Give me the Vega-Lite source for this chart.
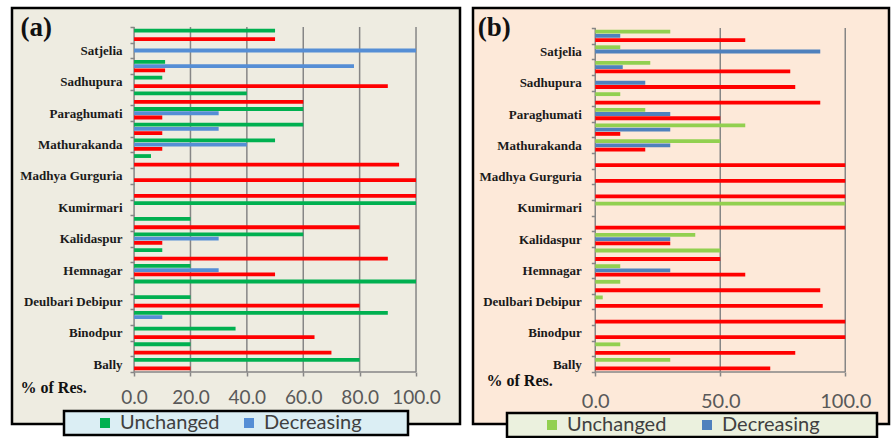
{
  "$schema": "https://vega.github.io/schema/vega-lite/v6.json",
  "description": "Perception of change, % of respondents, by village - panels (a) and (b)",
  "background": "white",
  "padding": {"left": 10, "top": 0, "right": 0, "bottom": 0},
  "spacing": 9,
  "datasets": {
    "bars": [
      {"p": "a", "cat": "Satjelia ii", "s": "Unchanged", "v": 50},
      {"p": "a", "cat": "Satjelia ii", "s": "Increasing", "v": 50},
      {"p": "a", "cat": "Satjelia", "s": "Decreasing", "v": 100},
      {"p": "a", "cat": "Sadhupura ii", "s": "Unchanged", "v": 11},
      {"p": "a", "cat": "Sadhupura ii", "s": "Decreasing", "v": 78},
      {"p": "a", "cat": "Sadhupura ii", "s": "Increasing", "v": 11},
      {"p": "a", "cat": "Sadhupura", "s": "Unchanged", "v": 10},
      {"p": "a", "cat": "Sadhupura", "s": "Increasing", "v": 90},
      {"p": "a", "cat": "Paraghumati ii", "s": "Unchanged", "v": 40},
      {"p": "a", "cat": "Paraghumati ii", "s": "Increasing", "v": 60},
      {"p": "a", "cat": "Paraghumati", "s": "Unchanged", "v": 60},
      {"p": "a", "cat": "Paraghumati", "s": "Decreasing", "v": 30},
      {"p": "a", "cat": "Paraghumati", "s": "Increasing", "v": 10},
      {"p": "a", "cat": "Mathurakanda ii", "s": "Unchanged", "v": 60},
      {"p": "a", "cat": "Mathurakanda ii", "s": "Decreasing", "v": 30},
      {"p": "a", "cat": "Mathurakanda ii", "s": "Increasing", "v": 10},
      {"p": "a", "cat": "Mathurakanda", "s": "Unchanged", "v": 50},
      {"p": "a", "cat": "Mathurakanda", "s": "Decreasing", "v": 40},
      {"p": "a", "cat": "Mathurakanda", "s": "Increasing", "v": 10},
      {"p": "a", "cat": "Madhya Gurguria ii", "s": "Unchanged", "v": 6},
      {"p": "a", "cat": "Madhya Gurguria ii", "s": "Increasing", "v": 94},
      {"p": "a", "cat": "Madhya Gurguria", "s": "Increasing", "v": 100},
      {"p": "a", "cat": "Kumirmari ii", "s": "Increasing", "v": 100},
      {"p": "a", "cat": "Kumirmari", "s": "Unchanged", "v": 100},
      {"p": "a", "cat": "Kalidaspur ii", "s": "Unchanged", "v": 20},
      {"p": "a", "cat": "Kalidaspur ii", "s": "Increasing", "v": 80},
      {"p": "a", "cat": "Kalidaspur", "s": "Unchanged", "v": 60},
      {"p": "a", "cat": "Kalidaspur", "s": "Decreasing", "v": 30},
      {"p": "a", "cat": "Kalidaspur", "s": "Increasing", "v": 10},
      {"p": "a", "cat": "Hemnagar ii", "s": "Unchanged", "v": 10},
      {"p": "a", "cat": "Hemnagar ii", "s": "Increasing", "v": 90},
      {"p": "a", "cat": "Hemnagar", "s": "Unchanged", "v": 20},
      {"p": "a", "cat": "Hemnagar", "s": "Decreasing", "v": 30},
      {"p": "a", "cat": "Hemnagar", "s": "Increasing", "v": 50},
      {"p": "a", "cat": "Deulbari Debipur ii", "s": "Unchanged", "v": 100},
      {"p": "a", "cat": "Deulbari Debipur", "s": "Unchanged", "v": 20},
      {"p": "a", "cat": "Deulbari Debipur", "s": "Increasing", "v": 80},
      {"p": "a", "cat": "Binodpur ii", "s": "Unchanged", "v": 90},
      {"p": "a", "cat": "Binodpur ii", "s": "Decreasing", "v": 10},
      {"p": "a", "cat": "Binodpur", "s": "Unchanged", "v": 36},
      {"p": "a", "cat": "Binodpur", "s": "Increasing", "v": 64},
      {"p": "a", "cat": "Bally ii", "s": "Unchanged", "v": 20},
      {"p": "a", "cat": "Bally ii", "s": "Increasing", "v": 70},
      {"p": "a", "cat": "Bally", "s": "Unchanged", "v": 80},
      {"p": "a", "cat": "Bally", "s": "Increasing", "v": 20},

      {"p": "b", "cat": "Satjelia ii", "s": "Unchanged", "v": 30},
      {"p": "b", "cat": "Satjelia ii", "s": "Decreasing", "v": 10},
      {"p": "b", "cat": "Satjelia ii", "s": "Increasing", "v": 60},
      {"p": "b", "cat": "Satjelia", "s": "Unchanged", "v": 10},
      {"p": "b", "cat": "Satjelia", "s": "Decreasing", "v": 90},
      {"p": "b", "cat": "Sadhupura ii", "s": "Unchanged", "v": 22},
      {"p": "b", "cat": "Sadhupura ii", "s": "Decreasing", "v": 11},
      {"p": "b", "cat": "Sadhupura ii", "s": "Increasing", "v": 78},
      {"p": "b", "cat": "Sadhupura", "s": "Decreasing", "v": 20},
      {"p": "b", "cat": "Sadhupura", "s": "Increasing", "v": 80},
      {"p": "b", "cat": "Paraghumati ii", "s": "Unchanged", "v": 10},
      {"p": "b", "cat": "Paraghumati ii", "s": "Increasing", "v": 90},
      {"p": "b", "cat": "Paraghumati", "s": "Unchanged", "v": 20},
      {"p": "b", "cat": "Paraghumati", "s": "Decreasing", "v": 30},
      {"p": "b", "cat": "Paraghumati", "s": "Increasing", "v": 50},
      {"p": "b", "cat": "Mathurakanda ii", "s": "Unchanged", "v": 60},
      {"p": "b", "cat": "Mathurakanda ii", "s": "Decreasing", "v": 30},
      {"p": "b", "cat": "Mathurakanda ii", "s": "Increasing", "v": 10},
      {"p": "b", "cat": "Mathurakanda", "s": "Unchanged", "v": 50},
      {"p": "b", "cat": "Mathurakanda", "s": "Decreasing", "v": 30},
      {"p": "b", "cat": "Mathurakanda", "s": "Increasing", "v": 20},
      {"p": "b", "cat": "Madhya Gurguria ii", "s": "Increasing", "v": 100},
      {"p": "b", "cat": "Madhya Gurguria", "s": "Increasing", "v": 100},
      {"p": "b", "cat": "Kumirmari ii", "s": "Increasing", "v": 100},
      {"p": "b", "cat": "Kumirmari", "s": "Unchanged", "v": 100},
      {"p": "b", "cat": "Kalidaspur ii", "s": "Increasing", "v": 100},
      {"p": "b", "cat": "Kalidaspur", "s": "Unchanged", "v": 40},
      {"p": "b", "cat": "Kalidaspur", "s": "Decreasing", "v": 30},
      {"p": "b", "cat": "Kalidaspur", "s": "Increasing", "v": 30},
      {"p": "b", "cat": "Hemnagar ii", "s": "Unchanged", "v": 50},
      {"p": "b", "cat": "Hemnagar ii", "s": "Increasing", "v": 50},
      {"p": "b", "cat": "Hemnagar", "s": "Unchanged", "v": 10},
      {"p": "b", "cat": "Hemnagar", "s": "Decreasing", "v": 30},
      {"p": "b", "cat": "Hemnagar", "s": "Increasing", "v": 60},
      {"p": "b", "cat": "Deulbari Debipur ii", "s": "Unchanged", "v": 10},
      {"p": "b", "cat": "Deulbari Debipur ii", "s": "Increasing", "v": 90},
      {"p": "b", "cat": "Deulbari Debipur", "s": "Unchanged", "v": 3},
      {"p": "b", "cat": "Deulbari Debipur", "s": "Increasing", "v": 91},
      {"p": "b", "cat": "Binodpur ii", "s": "Increasing", "v": 100},
      {"p": "b", "cat": "Binodpur", "s": "Increasing", "v": 100},
      {"p": "b", "cat": "Bally ii", "s": "Unchanged", "v": 10},
      {"p": "b", "cat": "Bally ii", "s": "Increasing", "v": 80},
      {"p": "b", "cat": "Bally", "s": "Unchanged", "v": 30},
      {"p": "b", "cat": "Bally", "s": "Increasing", "v": 70}
    ],
    "gridA": [{"v": 0}, {"v": 20}, {"v": 40}, {"v": 60}, {"v": 80}, {"v": 100}],
    "gridB": [{"v": 0}, {"v": 50}, {"v": 100}]
  },
  "hconcat": [
    {
      "width": 448,
      "height": 416,
      "view": {"fill": "#EEECE1", "stroke": "#000000", "strokeWidth": 2.5},
      "layer": [
        {
          "data": {"name": "gridA"},
          "mark": {"type": "rule", "color": "#868686", "strokeWidth": 1.5},
          "encoding": {
            "x": {"field": "v", "type": "quantitative", "scale": {"domain": [-43.3, 115.6], "nice": false, "zero": false}},
            "y": {"datum": "Satjelia ii", "type": "nominal", "bandPosition": 0},
            "y2": {"datum": "Bally", "bandPosition": 1}
          }
        },
        {
          "data": {"values": [{}]},
          "mark": {"type": "rule", "color": "#868686", "strokeWidth": 1.5},
          "encoding": {
            "x": {"datum": 0, "type": "quantitative"},
            "x2": {"datum": 100},
            "y": {"datum": "Bally", "type": "nominal", "bandPosition": 1}
          }
        },
        {
          "data": {"name": "bars"},
          "transform": [{"filter": "datum.p == 'a'"}],
          "mark": {"type": "bar"},
          "encoding": {
            "y": {
              "field": "cat", "type": "nominal",
              "scale": {
                "domain": ["Satjelia ii", "Satjelia", "Sadhupura ii", "Sadhupura", "Paraghumati ii", "Paraghumati", "Mathurakanda ii", "Mathurakanda", "Madhya Gurguria ii", "Madhya Gurguria", "Kumirmari ii", "Kumirmari", "Kalidaspur ii", "Kalidaspur", "Hemnagar ii", "Hemnagar", "Deulbari Debipur ii", "Deulbari Debipur", "Binodpur ii", "Binodpur", "Bally ii", "Bally"],
                "range": [19, 364], "paddingInner": 0, "paddingOuter": 0
              },
              "axis": {
                "offset": -122, "domain": false, "grid": false, "tickBand": "extent",
                "tickSize": 4, "tickColor": "#868686", "tickWidth": 1.5,
                "labelExpr": "indexof(datum.label, ' ii') >= 0 ? '' : datum.label",
                "labelFont": "Liberation Serif", "labelFontWeight": "bold", "labelFontSize": 13,
                "labelColor": "#1a1a1a", "labelPadding": 8,
                "title": "(a)", "titleAngle": 0, "titleX": -114, "titleY": 27,
                "titleAlign": "left", "titleBaseline": "alphabetic",
                "titleFont": "Liberation Serif", "titleFontSize": 27, "titleFontWeight": "bold", "titleColor": "#111111"
              }
            },
            "yOffset": {"field": "s", "type": "nominal", "scale": {"domain": ["Unchanged", "Decreasing", "Increasing"], "paddingInner": 0.1, "paddingOuter": 0.4}},
            "x": {
              "field": "v", "type": "quantitative", "stack": null,
              "scale": {"domain": [-43.3, 115.6], "nice": false, "zero": false},
              "axis": {
                "offset": -52, "values": [0, 20, 40, 60, 80, 100], "format": ".1f",
                "domain": false, "grid": false, "labelFlush": false,
                "tickSize": 4, "tickColor": "#868686", "tickWidth": 1.5,
                "labelFont": "Lato", "labelFontSize": 19, "labelColor": "#595959", "labelPadding": 12,
                "title": "% of Res.", "titleX": 8, "titleY": 20, "titleAlign": "left", "titleBaseline": "alphabetic",
                "titleFont": "Liberation Serif", "titleFontWeight": "bold", "titleFontSize": 16, "titleColor": "#111111"
              }
            },
            "x2": {"datum": 0},
            "color": {
              "field": "s", "type": "nominal",
              "scale": {"domain": ["Unchanged", "Decreasing", "Increasing"], "range": ["#00B050", "#558ED5", "#FF0000"]},
              "legend": {
                "orient": "none", "legendX": 52, "legendY": 403, "direction": "horizontal",
                "title": " ", "titleOrient": "left", "titlePadding": 29,
                "values": ["Unchanged", "Decreasing", "Increasing"],
                "labelExpr": "datum.label == 'Increasing' ? '' : datum.label",
                "fillColor": "#DBEEF4", "strokeColor": "#000000", "padding": 2,
                "symbolType": "square", "symbolSize": 100, "symbolStrokeWidth": 0,
                "labelFont": "Lato", "labelFontSize": 20, "labelColor": "#404040",
                "labelOffset": 5, "columnPadding": 19,
                "encode": {
                  "symbols": {"update": {
                    "opacity": {"signal": "datum.value === 'Increasing' ? 0 : 1"},
                    "size": {"signal": "datum.value === 'Increasing' ? 0 : 100"}
                  }}
                }
              }
            }
          }
        }
      ]
    },
    {
      "width": 416,
      "height": 416,
      "view": {"fill": "#FDE9D9", "stroke": "#000000", "strokeWidth": 2.5},
      "layer": [
        {
          "data": {"name": "gridB"},
          "mark": {"type": "rule", "color": "#868686", "strokeWidth": 1.5},
          "encoding": {
            "x": {"field": "v", "type": "quantitative", "scale": {"domain": [-48.9, 117.5], "nice": false, "zero": false}},
            "y": {"datum": "Satjelia ii", "type": "nominal", "bandPosition": 0},
            "y2": {"datum": "Bally", "bandPosition": 1}
          }
        },
        {
          "data": {"values": [{}]},
          "mark": {"type": "rule", "color": "#868686", "strokeWidth": 1.5},
          "encoding": {
            "x": {"datum": 0, "type": "quantitative"},
            "x2": {"datum": 100},
            "y": {"datum": "Bally", "type": "nominal", "bandPosition": 1}
          }
        },
        {
          "data": {"name": "bars"},
          "transform": [{"filter": "datum.p == 'b'"}],
          "mark": {"type": "bar"},
          "encoding": {
            "y": {
              "field": "cat", "type": "nominal",
              "scale": {
                "domain": ["Satjelia ii", "Satjelia", "Sadhupura ii", "Sadhupura", "Paraghumati ii", "Paraghumati", "Mathurakanda ii", "Mathurakanda", "Madhya Gurguria ii", "Madhya Gurguria", "Kumirmari ii", "Kumirmari", "Kalidaspur ii", "Kalidaspur", "Hemnagar ii", "Hemnagar", "Deulbari Debipur ii", "Deulbari Debipur", "Binodpur ii", "Binodpur", "Bally ii", "Bally"],
                "range": [20, 364], "paddingInner": 0, "paddingOuter": 0
              },
              "axis": {
                "offset": -122.3, "domain": false, "grid": false, "tickBand": "extent",
                "tickSize": 4, "tickColor": "#868686", "tickWidth": 1.5,
                "labelExpr": "indexof(datum.label, ' ii') >= 0 ? '' : datum.label",
                "labelFont": "Liberation Serif", "labelFontWeight": "bold", "labelFontSize": 13,
                "labelColor": "#1a1a1a", "labelPadding": 10,
                "title": "(b)", "titleAngle": 0, "titleX": -118, "titleY": 27,
                "titleAlign": "left", "titleBaseline": "alphabetic",
                "titleFont": "Liberation Serif", "titleFontSize": 27, "titleFontWeight": "bold", "titleColor": "#111111"
              }
            },
            "yOffset": {"field": "s", "type": "nominal", "scale": {"domain": ["Unchanged", "Decreasing", "Increasing"], "paddingInner": 0.1, "paddingOuter": 0.4}},
            "x": {
              "field": "v", "type": "quantitative", "stack": null,
              "scale": {"domain": [-48.9, 117.5], "nice": false, "zero": false},
              "axis": {
                "offset": -52, "values": [0, 50, 100], "format": ".1f",
                "domain": false, "grid": false, "labelFlush": false,
                "tickSize": 4, "tickColor": "#868686", "tickWidth": 1.5,
                "labelFont": "Lato", "labelFontSize": 20, "labelColor": "#595959", "labelPadding": 15,
                "title": "% of Res.", "titleX": 13, "titleY": 13, "titleAlign": "left", "titleBaseline": "alphabetic",
                "titleFont": "Liberation Serif", "titleFontWeight": "bold", "titleFontSize": 16, "titleColor": "#111111"
              }
            },
            "x2": {"datum": 0},
            "color": {
              "field": "s", "type": "nominal",
              "scale": {"domain": ["Unchanged", "Decreasing", "Increasing"], "range": ["#92D050", "#4F81BD", "#FF0000"]},
              "legend": {
                "orient": "none", "legendX": 34, "legendY": 405, "direction": "horizontal",
                "title": " ", "titleOrient": "left", "titlePadding": 33,
                "values": ["Unchanged", "Decreasing", "Increasing"],
                "labelExpr": "datum.label == 'Increasing' ? '' : datum.label",
                "fillColor": "#EBF1DE", "strokeColor": "#000000", "padding": 2,
                "symbolType": "square", "symbolSize": 100, "symbolStrokeWidth": 0,
                "labelFont": "Lato", "labelFontSize": 20, "labelColor": "#404040",
                "labelOffset": 5, "columnPadding": 30,
                "encode": {
                  "symbols": {"update": {
                    "opacity": {"signal": "datum.value === 'Increasing' ? 0 : 1"},
                    "size": {"signal": "datum.value === 'Increasing' ? 0 : 100"}
                  }}
                }
              }
            }
          }
        }
      ]
    }
  ],
  "resolve": {
    "scale": {"x": "independent", "y": "independent", "color": "independent"},
    "legend": {"color": "independent"}
  },
  "config": {
    "legend": {"strokeWidth": 2.5}
  }
}
